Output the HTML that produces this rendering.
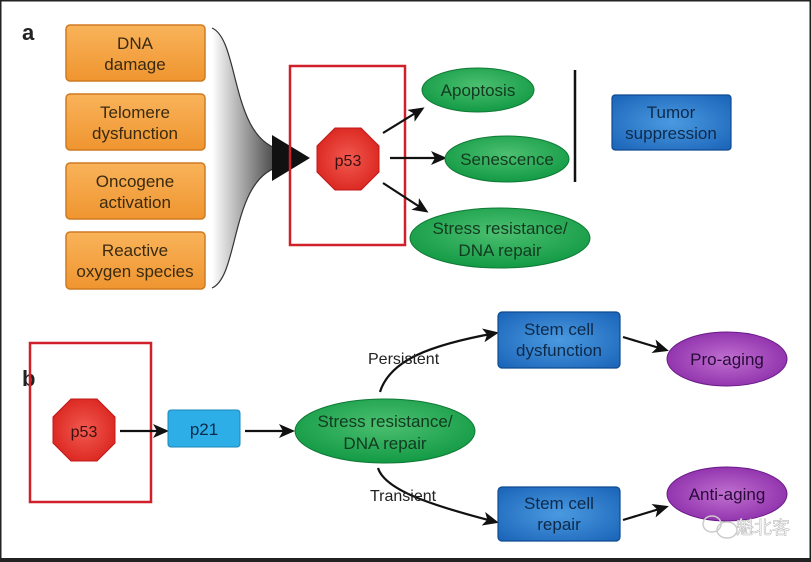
<!DOCTYPE html>
<html><head><meta charset="utf-8"><style>
html,body{margin:0;padding:0;background:#fff}
svg{display:block}
text{font-family:"Liberation Sans",Arial,sans-serif}
</style></head><body>
<svg width="811" height="562" viewBox="0 0 811 562" xmlns="http://www.w3.org/2000/svg">
<defs>
<linearGradient id="og" x1="0" y1="0" x2="0" y2="1"><stop offset="0" stop-color="#f9b35a"/><stop offset="1" stop-color="#ef9530"/></linearGradient>
<radialGradient id="gg" cx="0.5" cy="0.4" r="0.6"><stop offset="0" stop-color="#4cc070"/><stop offset="1" stop-color="#139a45"/></radialGradient>
<radialGradient id="bg" cx="0.5" cy="0.5" r="0.7"><stop offset="0" stop-color="#4a9ae0"/><stop offset="1" stop-color="#1a63b8"/></radialGradient>
<radialGradient id="pg" cx="0.5" cy="0.5" r="0.6"><stop offset="0" stop-color="#c070d0"/><stop offset="1" stop-color="#8a2aa8"/></radialGradient>
<radialGradient id="rg" cx="0.5" cy="0.5" r="0.6"><stop offset="0" stop-color="#f25a50"/><stop offset="1" stop-color="#d8221c"/></radialGradient>
<linearGradient id="fg" x1="0" y1="0" x2="1" y2="0"><stop offset="0" stop-color="#fff"/><stop offset="1" stop-color="#111"/></linearGradient>
<marker id="ar" markerWidth="16" markerHeight="14" refX="13" refY="7" orient="auto" markerUnits="userSpaceOnUse"><path d="M0,0 L16,7 L0,14 L4,7 z" fill="#111"/></marker>
</defs>
<rect x="0" y="0" width="811" height="562" fill="#fff"/>
<rect x="0.5" y="0.5" width="810" height="559" fill="none" stroke="#222" stroke-width="2"/>
<rect x="0" y="558" width="811" height="4" fill="#222"/>
<text x="22" y="40" font-size="22" font-weight="bold" fill="#222">a</text>
<text x="22" y="386" font-size="22" font-weight="bold" fill="#222">b</text>
<path d="M212,28 C240,40 230,140 282,150 L282,166 C230,176 240,276 212,288 Z" fill="url(#fg)" opacity="0.85"/>
<path d="M212,28 C240,40 230,140 282,150 M282,166 C230,176 240,276 212,288" fill="none" stroke="#333" stroke-width="1.2"/>
<path d="M272,135 L310,158 L272,181 Z" fill="#111"/>
<g stroke="#d07a20" stroke-width="1.5" fill="url(#og)">
<rect x="66" y="25" width="139" height="56" rx="4"/>
<rect x="66" y="94" width="139" height="56" rx="4"/>
<rect x="66" y="163" width="139" height="56" rx="4"/>
<rect x="66" y="232" width="139" height="57" rx="4"/>
</g>
<g font-size="17" fill="#3a2a10" text-anchor="middle">
<text x="135" y="49">DNA</text><text x="135" y="70">damage</text>
<text x="135" y="118">Telomere</text><text x="135" y="139">dysfunction</text>
<text x="135" y="187">Oncogene</text><text x="135" y="208">activation</text>
<text x="135" y="256">Reactive</text><text x="135" y="277">oxygen species</text>
</g>
<rect x="290" y="66" width="115" height="179" fill="none" stroke="#d0202a" stroke-width="2.5"/>
<rect x="30" y="343" width="121" height="159" fill="none" stroke="#d0202a" stroke-width="2.5"/>
<polygon points="335,128 361,128 379,146 379,172 361,190 335,190 317,172 317,146" fill="url(#rg)" stroke="#c01818"/>
<text x="348" y="166" font-size="16" text-anchor="middle" fill="#3a1010">p53</text>
<polygon points="71,399 97,399 115,417 115,443 97,461 71,461 53,443 53,417" fill="url(#rg)" stroke="#c01818"/>
<text x="84" y="437" font-size="16" text-anchor="middle" fill="#3a1010">p53</text>
<g stroke="#111" stroke-width="2.2" fill="none" marker-end="url(#ar)">
<line x1="383" y1="133" x2="422" y2="109"/>
<line x1="390" y1="158" x2="444" y2="158"/>
<line x1="383" y1="183" x2="426" y2="211"/>
<line x1="120" y1="431" x2="166" y2="431"/>
<line x1="245" y1="431" x2="292" y2="431"/>
<path d="M380,392 C390,360 430,345 496,333"/>
<path d="M378,468 C385,490 430,505 496,522"/>
<line x1="623" y1="337" x2="666" y2="350"/>
<line x1="623" y1="520" x2="666" y2="507"/>
</g>
<line x1="575" y1="70" x2="575" y2="182" stroke="#111" stroke-width="2.5"/>
<g fill="url(#gg)" stroke="#0f7a35" stroke-width="1">
<ellipse cx="478" cy="90" rx="56" ry="22"/>
<ellipse cx="507" cy="159" rx="62" ry="23"/>
<ellipse cx="500" cy="238" rx="90" ry="30"/>
<ellipse cx="385" cy="431" rx="90" ry="32"/>
</g>
<g font-size="17" fill="#123a20" text-anchor="middle">
<text x="478" y="96">Apoptosis</text>
<text x="507" y="165">Senescence</text>
<text x="500" y="234">Stress resistance/</text><text x="500" y="256">DNA repair</text>
<text x="385" y="427">Stress resistance/</text><text x="385" y="449">DNA repair</text>
</g>
<g fill="url(#bg)" stroke="#0f4a90" stroke-width="1.2">
<rect x="612" y="95" width="119" height="55" rx="3"/>
<rect x="498" y="312" width="122" height="56" rx="4"/>
<rect x="498" y="487" width="122" height="54" rx="4"/>
</g>
<rect x="168" y="410" width="72" height="37" rx="3" fill="#2eaee6" stroke="#1a86b8"/>
<g font-size="17" fill="#0e2a4a" text-anchor="middle">
<text x="671" y="118">Tumor</text><text x="671" y="139">suppression</text>
<text x="559" y="335">Stem cell</text><text x="559" y="356">dysfunction</text>
<text x="559" y="509">Stem cell</text><text x="559" y="530">repair</text>
<text x="204" y="435">p21</text>
</g>
<g fill="url(#pg)" stroke="#6a1a88">
<ellipse cx="727" cy="359" rx="60" ry="27"/>
<ellipse cx="727" cy="494" rx="60" ry="27"/>
</g>
<g font-size="17" fill="#2a0a3a" text-anchor="middle">
<text x="727" y="365">Pro-aging</text>
<text x="727" y="500">Anti-aging</text>
</g>
<g font-size="16" fill="#222">
<text x="368" y="364">Persistent</text>
<text x="370" y="501">Transient</text>
</g>
<g fill="none" stroke="#ccc" stroke-width="1.5"><ellipse cx="712" cy="524" rx="9" ry="8"/><ellipse cx="727" cy="530" rx="10" ry="8"/></g>
<text x="736" y="534" font-size="18" fill="#fff" stroke="#bbb" stroke-width="0.6" font-family="'Noto Sans CJK SC',sans-serif">魁北客</text>
</svg>
</body></html>
